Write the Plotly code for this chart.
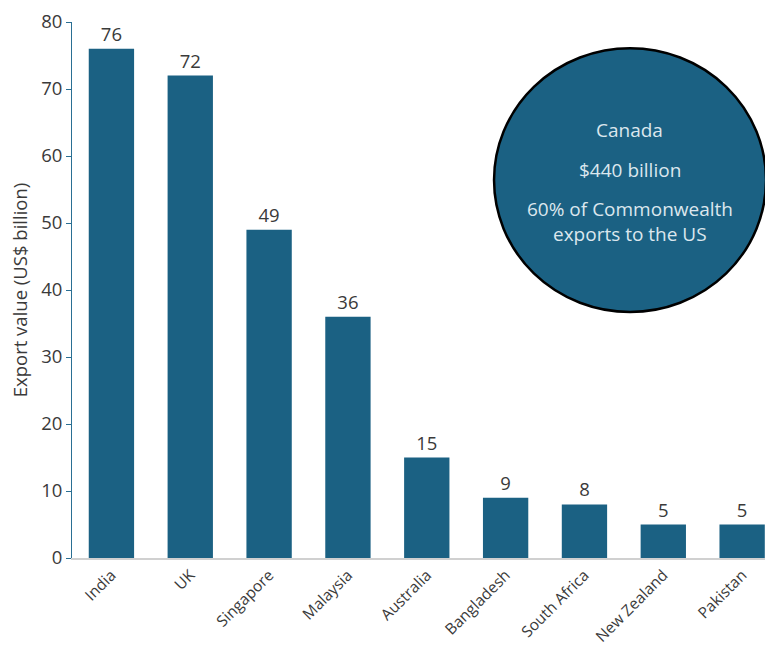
import plotly.graph_objects as go

# Commonwealth exports to the US, excluding Canada (US$ billion)
countries = ["India", "UK", "Singapore", "Malaysia", "Australia",
             "Bangladesh", "South Africa", "New Zealand", "Pakistan"]
export_values = [76, 72, 49, 36, 15, 9, 8, 5, 5]

y_ticks = [0, 10, 20, 30, 40, 50, 60, 70, 80]

callout_lines = ["Canada", "$440 billion", "60% of Commonwealth", "exports to the US"]

BAR = "#1b6183"
AXIS_BLUE = "#2a6f93"
TEXT = "#3a3a3a"
FONT = "'Open Sans', Lato, sans-serif"

fig = go.Figure()
fig.add_trace(go.Bar(
    x=countries,
    y=export_values,
    marker=dict(color=BAR, line=dict(width=0)),
    width=0.575,
    text=[str(v) for v in export_values],
    textposition="outside",
    textfont=dict(size=18.5, color=TEXT, family=FONT),
    cliponaxis=False,
))

fig.update_layout(
    width=765, height=650,
    margin=dict(l=72, r=0, t=22, b=92),
    plot_bgcolor="white", paper_bgcolor="white",
    showlegend=False,
    font=dict(family=FONT, color=TEXT),
    xaxis=dict(
        range=[-0.5, 8.29],
        tickangle=-45,
        tickfont=dict(size=15.5, color=TEXT),
        showline=True, linecolor="#d0d0d0", linewidth=2,
        ticks="", showgrid=False, automargin=False,
    ),
    yaxis=dict(
        range=[0, 80],
        tickvals=y_ticks,
        tickfont=dict(size=18.5, color=TEXT),
        showline=True, linecolor=AXIS_BLUE, linewidth=1,
        ticks="outside", ticklen=5, tickcolor=AXIS_BLUE,
        showgrid=False, zeroline=False, automargin=False,
        title=dict(text="Export value (US$ billion)",
                   font=dict(size=18.5, color=TEXT), standoff=8),
    ),
)

# Canada callout bubble
fig.add_shape(
    type="circle", xref="paper", yref="paper",
    x0=0.609, x1=1.0015, y0=0.459, y1=0.951,
    fillcolor=BAR, line=dict(color="black", width=2.5),
    layer="above",
)

line_y = [0.799, 0.724, 0.651, 0.604]
for txt, yy in zip(callout_lines, line_y):
    fig.add_annotation(
        x=0.805, y=yy, xref="paper", yref="paper",
        text=txt, showarrow=False,
        font=dict(size=19, color="#dce7ee", family=FONT),
        xanchor="center", yanchor="middle",
    )

fig.write_html("out.html")
